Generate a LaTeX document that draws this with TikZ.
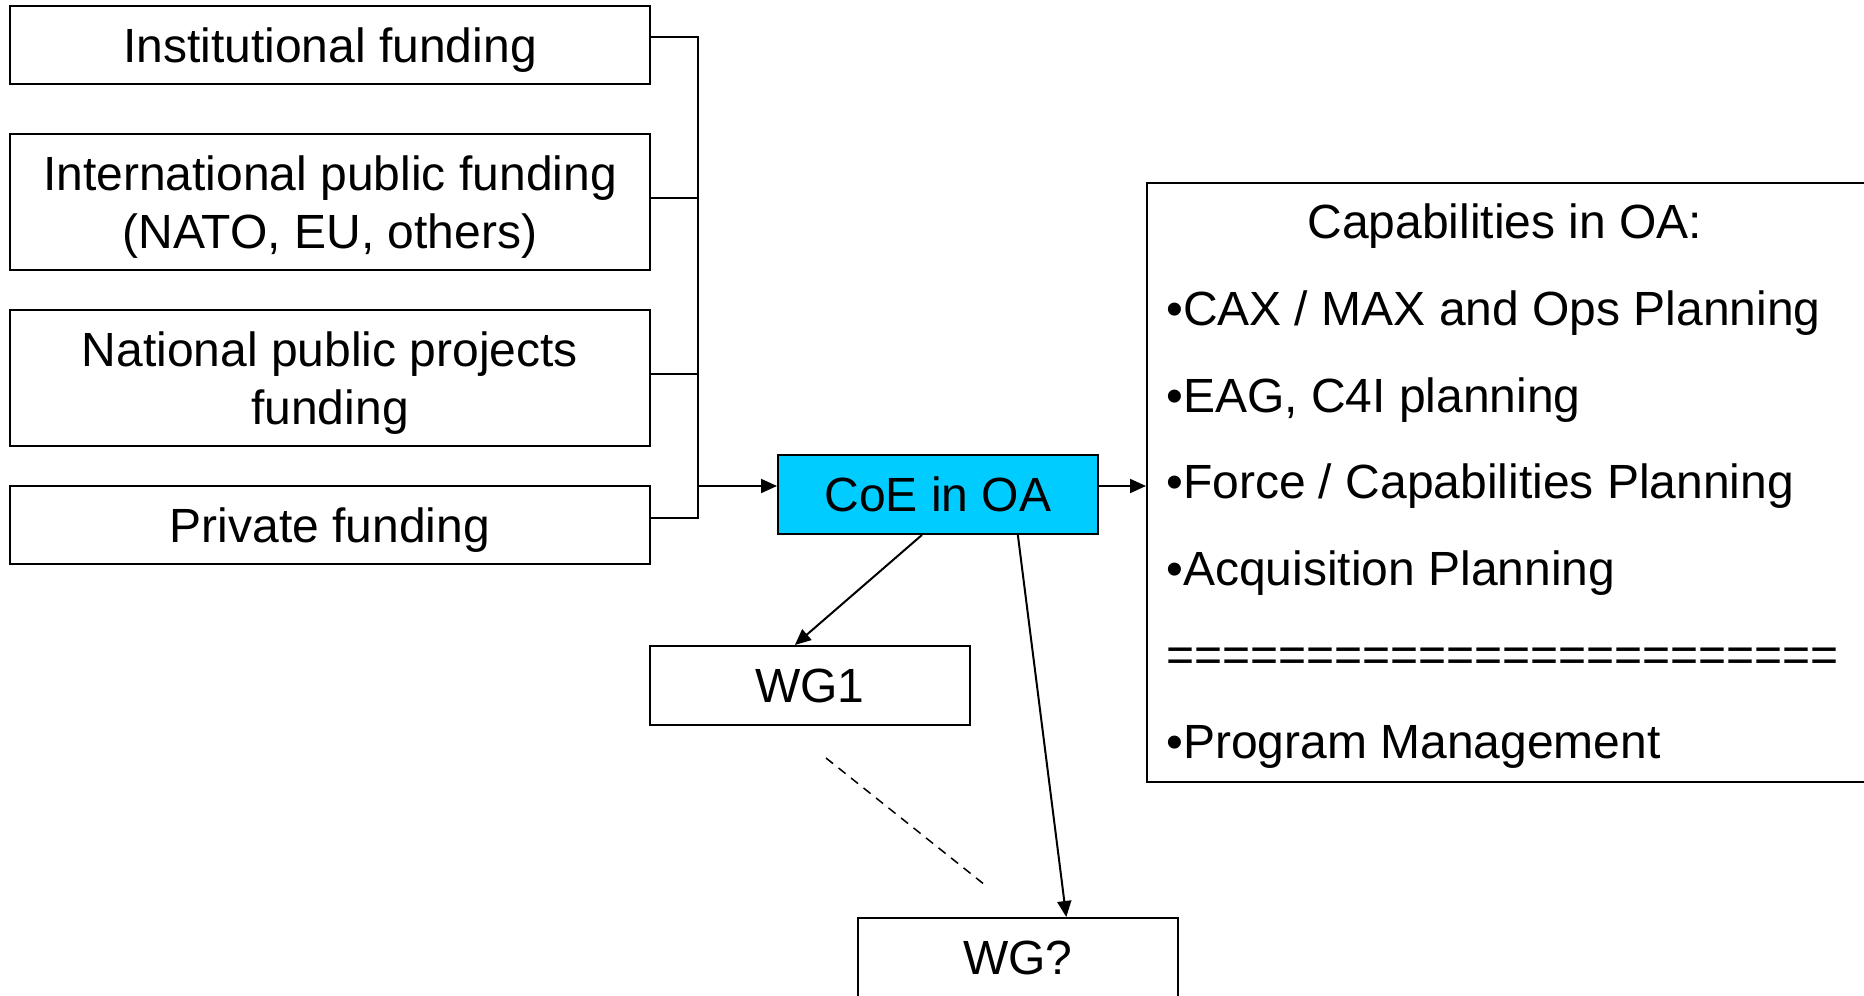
\documentclass[tikz,border=0pt]{standalone}
\usepackage{fontspec}
\setmainfont{Liberation Sans}
\usetikzlibrary{arrows.meta,calc}
\definecolor{coecyan}{HTML}{00CCFF}
\newcommand\boxtext[1]{\raisebox{-5.7pt}[\height][\depth]{\begin{tabular}{@{}c@{}}#1\end{tabular}}}
\tikzset{
  bigfont/.style={font=\fontsize{48}{57.6}\selectfont},
  fundbox/.style={draw, line width=2pt, rectangle, inner sep=0pt, bigfont, minimum width=640pt},
  wgbox/.style={draw, line width=2pt, rectangle, inner sep=0pt, bigfont, minimum width=320pt, minimum height=79pt},
  arr/.style={line width=2pt, -{Triangle[length=16pt,width=14pt]}},
  plain/.style={line width=2pt},
  dashline/.style={line width=1.5pt, dash pattern=on 9pt off 7pt}
}
\begin{document}
\begin{tikzpicture}[x=1pt,y=-1pt]
\useasboundingbox (0,0) rectangle (1864,996);
\clip (0,0) rectangle (1864,996);
\fill[white] (0,0) rectangle (1864,996);

% funding boxes
\node[fundbox, minimum height=78pt] (b1) at (330,45) {\boxtext{Institutional funding}};
\node[fundbox, minimum height=136pt] (b2) at (330,202) {\boxtext{International public funding\\(NATO, EU, others)}};
\node[fundbox, minimum height=136pt] (b3) at (330,378) {\boxtext{National public projects\\funding}};
\node[fundbox, minimum height=78pt] (b4) at (330,525) {\boxtext{Private funding}};

% centre box
\node[wgbox, fill=coecyan] (coe) at (938,494.5) {\boxtext{CoE in OA}};
\node[wgbox] (wg1) at (810,685.5) {\boxtext{WG1}};
\node[wgbox] (wgq) at (1018,957.5) {\boxtext{WG?}};

% capabilities box
\node[draw, line width=2pt, rectangle, inner sep=0pt, minimum width=720pt, minimum height=599pt, anchor=north west] (cap) at (1146,182) {};
\node[bigfont, inner sep=0pt, anchor=base] (caph) at (1505,238.5) {Capabilities in OA:};
\node[font=\fontsize{48}{86.5}\selectfont, inner sep=0pt, anchor=base west] (capl) at (1166,325.5)
  {\begin{tabular}[t]{@{}l@{}}
   •CAX / MAX and Ops Planning\\
   •EAG, C4I planning\\
   •Force / Capabilities Planning\\
   •Acquisition Planning\\
   ========================\\
   •Program Management
   \end{tabular}};

% bus
\coordinate (j1) at (698,37);
\coordinate (j2) at (698,198);
\coordinate (j3) at (698,374);
\coordinate (j4) at (698,518);
\coordinate (ja) at (698,486);
\draw[plain] (b1.east |- j1) -- (j1) -- (j4) -- (b4.east |- j4);
\draw[plain] (b2.east |- j2) -- (j2);
\draw[plain] (b3.east |- j3) -- (j3);
\draw[arr] (ja) -- (coe.west |- ja);
\draw[arr] (coe.east |- ja) -- (cap.west |- ja);

% to working groups
\draw[arr] ($(coe.south west)!0.45!(coe.south east)$) -- ($(wg1.north west)!0.453!(wg1.north east)$);
\draw[arr] ($(coe.south west)!0.748!(coe.south east)$) -- ($(wgq.north west)!0.65!(wgq.north east)$);

% dashed
\coordinate (d1) at (826,758);
\coordinate (d2) at (985,885);
\draw[dashline] (d1) -- (d2);
\end{tikzpicture}
\end{document}
